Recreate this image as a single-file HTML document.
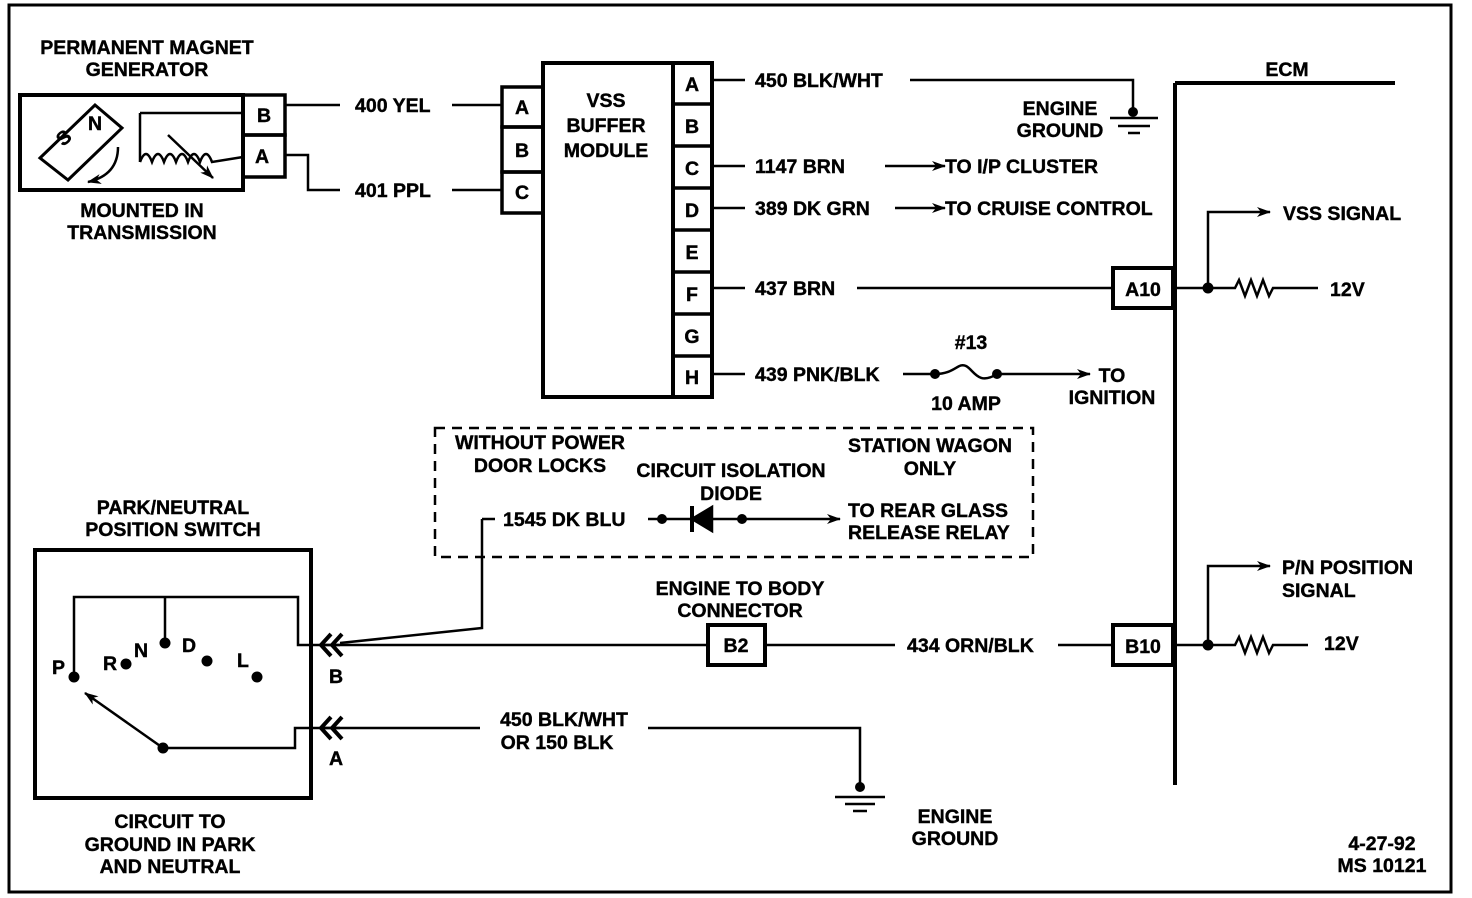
<!DOCTYPE html>
<html><head><meta charset="utf-8"><style>
html,body{margin:0;padding:0;background:#fff;}
svg{display:block;}
text{font-family:"Liberation Sans",sans-serif;font-weight:bold;font-size:19.5px;fill:#000;stroke:#000;stroke-width:0.4;}
.c{text-anchor:middle;}
</style></head><body>
<svg width="1472" height="898" viewBox="0 0 1472 898" xmlns="http://www.w3.org/2000/svg">
<defs>
<marker id="ar" markerWidth="14" markerHeight="10" refX="13" refY="5" orient="auto" markerUnits="userSpaceOnUse"><path d="M0,0 L14,5 L0,10 L4,5 Z" fill="#000"/></marker>
</defs>
<g fill="none" stroke="#000" stroke-width="2.5">
<rect x="9" y="5" width="1442" height="887" stroke-width="3"/>
<rect x="20" y="95" width="223" height="95" stroke-width="4"/>
<rect x="243" y="95" width="42" height="40" stroke-width="3.5"/>
<rect x="243" y="135" width="42" height="42" stroke-width="3.5"/>
<polygon points="40,158 95,105 122,128 68,180" stroke-width="3"/>
<path d="M140,113 L243,113 M140,113 L140,162" stroke-width="2.5"/>
<path d="M140,162 q6,-16 12,0 q6,-16 12,0 q6,-16 12,0 q6,-16 12,0 q6,-16 12,0 q6,-16 12,0 L243,157" stroke-width="2.5"/>
<path d="M168,135 L213,178" stroke-width="2.5" marker-end="url(#ar)"/>
<path d="M118,147 Q118,175 88,182" stroke-width="2.5" marker-end="url(#ar)"/>
<path d="M285,105 H340 M452,105 H502"/>
<path d="M285,155 H308 V190 H340 M452,190 H502"/>
<rect x="502" y="87" width="41" height="40" stroke-width="3.5"/>
<rect x="502" y="127" width="41" height="45" stroke-width="3.5"/>
<rect x="502" y="172" width="41" height="41" stroke-width="3.5"/>
<rect x="543" y="63" width="130" height="334" stroke-width="4"/>
<rect x="673" y="63" width="39" height="334" stroke-width="4"/>
<path d="M673,104 H712 M673,146 H712 M673,188 H712 M673,230 H712 M673,272 H712 M673,314 H712 M673,356 H712" stroke-width="3.5"/>
<path d="M712,80 H745 M910,80 H1133 V112"/>
<path d="M1110,118 H1158 M1118,126 H1150 M1128,133 H1140"/>
<path d="M712,166 H745 M712,208 H745 M712,288 H745 M712,374 H745"/>
<path d="M885,166 H945" marker-end="url(#ar)"/>
<path d="M895,208 H945" marker-end="url(#ar)"/>
<path d="M857,288 H1113"/>
<path d="M903,374 H935 C955,374 958,362 966,366 C974,370 978,386 997,374 H1090" marker-end="url(#ar)"/>
<path d="M1175,83 V785 M1175,83 H1395" stroke-width="4"/>
<rect x="1113" y="268" width="60" height="40" stroke-width="4"/>
<rect x="1113" y="625" width="60" height="40" stroke-width="4"/>
<path d="M1173,288 H1235 l4,-8 l6,16 l6,-16 l6,16 l6,-16 l6,16 l4,-8 H1318"/>
<path d="M1208,288 V212 H1270" marker-end="url(#ar)"/>
<path d="M1173,645 H1235 l4,-8 l6,16 l6,-16 l6,16 l6,-16 l6,16 l4,-8 H1308"/>
<path d="M1208,645 V566 H1270" marker-end="url(#ar)"/>
<rect x="435" y="428" width="598" height="129" stroke-dasharray="10,7"/>
<path d="M482,519 H495 M482,519 V628 L340,643"/>
<path d="M648,519 H742"/>
<path d="M742,519 H840" marker-end="url(#ar)"/>
<polygon points="692,519 712,507 712,531" fill="#000"/>
<path d="M692,506 V532" stroke-width="4"/>
<rect x="35" y="550" width="276" height="248" stroke-width="4"/>
<path d="M74,677 V597 H298 V645 H340 M165,597 V643"/>
<path d="M163,748 H295 V728 H340"/>
<path d="M163,748 L85,693" marker-end="url(#ar)"/>
<path d="M331,634 L321,645 L331,656 M342,634 L332,645 L342,656" stroke-width="4"/>
<path d="M331,717 L321,728 L331,739 M342,717 L332,728 L342,739" stroke-width="4"/>
<path d="M322,645 H708 M765,645 H895 M1058,645 H1113"/>
<rect x="708" y="625" width="57" height="40" stroke-width="4"/>
<path d="M322,728 H480 M648,728 H860 V787"/>
<path d="M835,797 H885 M845,804 H875 M853,811 H867"/>
</g>
<g fill="#000">
<circle cx="1133" cy="112" r="5"/>
<circle cx="935" cy="374" r="5"/><circle cx="997" cy="374" r="5"/>
<circle cx="1208" cy="288" r="5.5"/><circle cx="1208" cy="645" r="5.5"/>
<circle cx="662" cy="519" r="5"/><circle cx="742" cy="519" r="5"/>
<circle cx="74" cy="677" r="5.5"/><circle cx="126" cy="664" r="5.5"/><circle cx="165" cy="643" r="5.5"/>
<circle cx="207" cy="661" r="5.5"/><circle cx="257" cy="677" r="5.5"/><circle cx="163" cy="748" r="5.5"/>
<circle cx="860" cy="787" r="5"/>
</g>
<text class="c" x="147" y="54">PERMANENT MAGNET</text>
<text class="c" x="147" y="76">GENERATOR</text>
<text class="c" x="264" y="122">B</text>
<text class="c" x="262" y="163">A</text>
<text x="63" y="147" font-size="16" transform="rotate(-40 63 147)">S</text>
<text x="88" y="130" font-size="16">N</text>
<text class="c" x="142" y="217">MOUNTED IN</text>
<text class="c" x="142" y="239">TRANSMISSION</text>
<text x="355" y="112">400 YEL</text>
<text x="355" y="197">401 PPL</text>
<text class="c" x="522" y="114">A</text>
<text class="c" x="522" y="157">B</text>
<text class="c" x="522" y="199">C</text>
<text class="c" x="606" y="107">VSS</text>
<text class="c" x="606" y="132">BUFFER</text>
<text class="c" x="606" y="157">MODULE</text>
<text class="c" x="692" y="91">A</text>
<text class="c" x="692" y="133">B</text>
<text class="c" x="692" y="175">C</text>
<text class="c" x="692" y="217">D</text>
<text class="c" x="692" y="259">E</text>
<text class="c" x="692" y="301">F</text>
<text class="c" x="692" y="343">G</text>
<text class="c" x="692" y="384">H</text>
<text x="755" y="87">450 BLK/WHT</text>
<text x="755" y="173">1147 BRN</text>
<text x="755" y="215">389 DK GRN</text>
<text x="755" y="295">437 BRN</text>
<text x="755" y="381">439 PNK/BLK</text>
<text x="945" y="173">TO I/P CLUSTER</text>
<text x="945" y="215">TO CRUISE CONTROL</text>
<text class="c" x="1060" y="115">ENGINE</text>
<text class="c" x="1060" y="137">GROUND</text>
<text class="c" x="971" y="349">#13</text>
<text class="c" x="966" y="410">10 AMP</text>
<text class="c" x="1112" y="382">TO</text>
<text class="c" x="1112" y="404">IGNITION</text>
<text class="c" x="1287" y="76" font-size="25">ECM</text>
<text class="c" x="1143" y="296">A10</text>
<text class="c" x="1143" y="653">B10</text>
<text x="1283" y="220">VSS SIGNAL</text>
<text x="1330" y="296">12V</text>
<text x="1282" y="574">P/N POSITION</text>
<text x="1282" y="597">SIGNAL</text>
<text x="1324" y="650">12V</text>
<text class="c" x="540" y="449">WITHOUT POWER</text>
<text class="c" x="540" y="472">DOOR LOCKS</text>
<text class="c" x="731" y="477">CIRCUIT ISOLATION</text>
<text class="c" x="731" y="500">DIODE</text>
<text class="c" x="930" y="452">STATION WAGON</text>
<text class="c" x="930" y="475">ONLY</text>
<text x="503" y="526">1545 DK BLU</text>
<text x="848" y="517">TO REAR GLASS</text>
<text x="848" y="539">RELEASE RELAY</text>
<text class="c" x="173" y="514">PARK/NEUTRAL</text>
<text class="c" x="173" y="536">POSITION SWITCH</text>
<text x="52" y="674">P</text>
<text x="103" y="670">R</text>
<text x="134" y="657">N</text>
<text x="182" y="652">D</text>
<text x="237" y="667">L</text>
<text class="c" x="336" y="683">B</text>
<text class="c" x="336" y="765">A</text>
<text class="c" x="740" y="595">ENGINE TO BODY</text>
<text class="c" x="740" y="617">CONNECTOR</text>
<text class="c" x="736" y="652">B2</text>
<text x="907" y="652">434 ORN/BLK</text>
<text class="c" x="564" y="726">450 BLK/WHT</text>
<text class="c" x="557" y="749">OR 150 BLK</text>
<text class="c" x="955" y="823">ENGINE</text>
<text class="c" x="955" y="845">GROUND</text>
<text class="c" x="170" y="828">CIRCUIT TO</text>
<text class="c" x="170" y="851">GROUND IN PARK</text>
<text class="c" x="170" y="873">AND NEUTRAL</text>
<text class="c" x="1382" y="850">4-27-92</text>
<text class="c" x="1382" y="872">MS 10121</text>
</svg>
</body></html>
